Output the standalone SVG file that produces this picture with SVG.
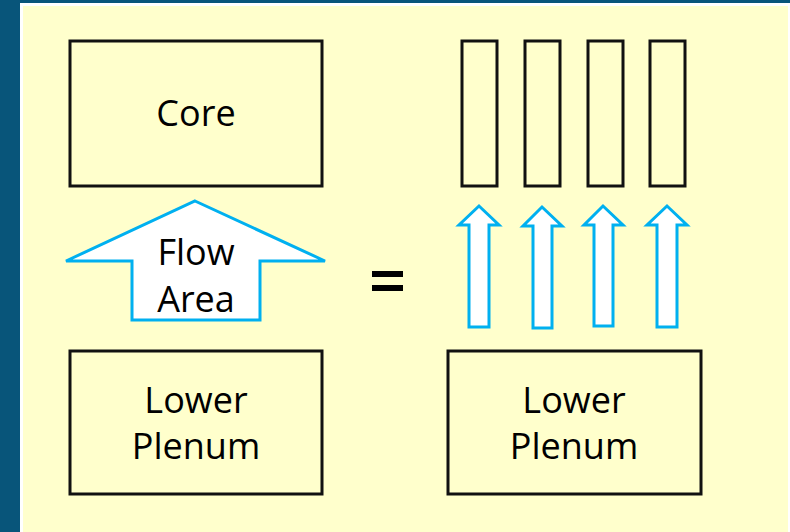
<svg xmlns="http://www.w3.org/2000/svg" width="790" height="532" viewBox="0 0 790 532">
  <style>
    .box { fill: none; stroke: #111; stroke-width: 3; }
    .flow { fill: #ffffff; stroke: #00b0f0; stroke-width: 3; stroke-linejoin: miter; }
    .label { font-family: "Open Sans", "DejaVu Sans", sans-serif; font-size: 36px; fill: #000; text-anchor: middle; }
  </style>
  <!-- frame -->
  <rect x="0" y="0" width="790" height="532" fill="#08557a"/>
  <rect x="20" y="3" width="770" height="529" fill="#ffffff"/>
  <rect x="23" y="6" width="765" height="526" fill="#ffffcc"/>

  <g id="core">
    <rect class="box" x="70" y="41" width="252" height="145"/>
    <text class="label" x="196" y="126" font-size="34">Core</text>
  </g>

  <g id="channels">
    <rect class="box" x="462" y="41" width="35" height="145"/>
    <rect class="box" x="525" y="41" width="35" height="145"/>
    <rect class="box" x="588" y="41" width="35" height="145"/>
    <rect class="box" x="650" y="41" width="35" height="145"/>
  </g>

  <g id="lower-plenum-left">
    <rect class="box" x="70" y="351" width="252" height="143"/>
    <text class="label" x="196" y="413">Lower</text>
    <text class="label" x="196" y="459">Plenum</text>
  </g>

  <g id="lower-plenum-right">
    <rect class="box" x="448" y="351" width="253" height="143"/>
    <text class="label" x="574" y="413">Lower</text>
    <text class="label" x="574" y="459">Plenum</text>
  </g>

  <g id="flow-area">
    <polygon class="flow" points="195,201 325,261 260,261 260,320 132,320 132,261 66,261"/>
    <text class="label" x="196" y="265">Flow</text>
    <text class="label" x="196" y="312">Area</text>
  </g>

  <g id="equals">
    <rect x="372" y="271" width="31" height="6" fill="#000"/>
    <rect x="372" y="285" width="31" height="6" fill="#000"/>
  </g>

  <g id="connectors">
    <polygon class="flow" points="479,206 499,225 489,225 489,327 469,327 469,225 459,225"/>
    <polygon class="flow" points="542,207 562,226 552,226 552,328 533,328 533,226 523,226"/>
    <polygon class="flow" points="603,206 623,225 613,225 613,326 594,326 594,225 584,225"/>
    <polygon class="flow" points="667,206 687,225 677,225 677,327 657,327 657,225 647,225"/>
  </g>
</svg>
